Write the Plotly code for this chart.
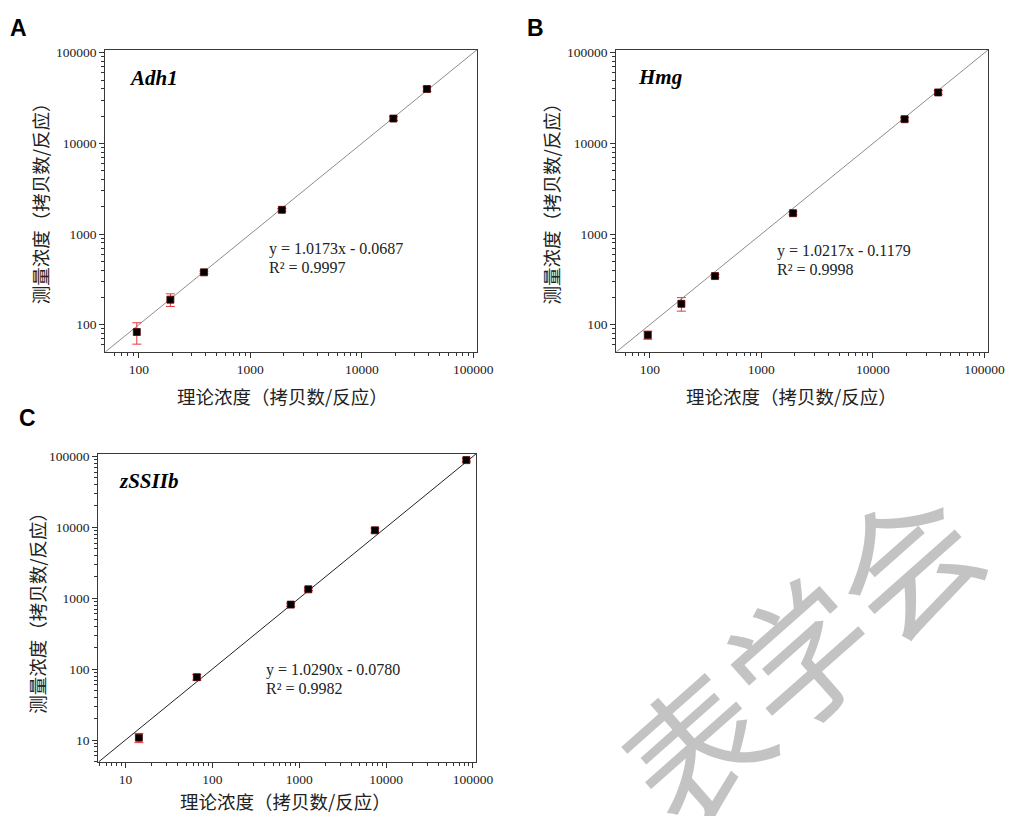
import plotly.graph_objects as go

# ---------------- data ----------------
genes = ["Adh1", "Hmg", "zSSIIb"]
panel_letters = ["A", "B", "C"]

a_x = [96, 192, 384, 1920, 19200, 38400]
a_y = [83, 189, 378, 1850, 18800, 39800]
a_err = [22, 30, 12, 60, 900, 2200]

b_x = [96, 192, 384, 1920, 19200, 38400]
b_y = [77, 170, 344, 1700, 18500, 36500]
b_err = [8, 29, 15, 70, 900, 1800]

c_x = [14.3, 66.4, 800, 1275, 7450, 84000]
c_y = [10.8, 77, 813, 1337, 9080, 88700]
c_err = [1.6, 7, 40, 60, 700, 5000]

equations = ["y = 1.0173x - 0.0687", "y = 1.0217x - 0.1179", "y = 1.0290x - 0.0780"]
r2_texts = ["R² = 0.9997", "R² = 0.9998", "R² = 0.9982"]

ab_tickvals = [100, 1000, 10000, 100000]
ab_ticktext = ["100", "1000", "10000", "100000"]
c_tickvals = [10, 100, 1000, 10000, 100000]
c_ticktext = ["10", "100", "1000", "10000", "100000"]

x_title = "理论浓度（拷贝数/反应）"
y_title = "测量浓度（拷贝数/反应）"
watermark = "表学会"

# log10 axis ranges
ab_range = [1.70, 5.033]
c_range = [0.69, 5.035]

# window is 1019x816; the page body has an 8px margin
OFF = 8
W, H = 1019 - OFF, 816 - OFF

def minor_vals(lo, hi):
    vals = []
    for e in range(int(lo) - 1, int(hi) + 2):
        for m in range(2, 10):
            vals.append(m * 10 ** e)
    return vals

SERIF = "Liberation Serif, Times New Roman, serif"
CJK = "Noto Sans CJK SC, sans-serif"
SANS = "Liberation Sans, Arial, sans-serif"

def axis_style(domain, rng, tickvals, ticktext, anchor):
    return dict(
        type="log", domain=domain, range=rng, anchor=anchor,
        tickmode="array", tickvals=tickvals, ticktext=ticktext,
        ticks="outside", ticklen=5, tickwidth=1, tickcolor="#333",
        minor=dict(ticks="outside", ticklen=3, tickwidth=1, tickcolor="#333",
                   tickmode="array", tickvals=minor_vals(rng[0], rng[1]), showgrid=False),
        showline=True, linecolor="#3a3a3a", linewidth=1.4, mirror=True,
        showgrid=False, zeroline=False,
        tickfont=dict(family=SERIF, size=13.5, color="#222"),
    )

# window pixel geometry -> paper fractions
def xd(x0, x1):
    return [(x0 - OFF) / W, (x1 - OFF) / W]

def yd(top, bottom):
    return [1 - (bottom - OFF) / H, 1 - (top - OFF) / H]

fig = go.Figure()

panels = [
    dict(xs=a_x, ys=a_y, err=a_err, line_color="#8c8c8c", rng=ab_range, xa="x", ya="y"),
    dict(xs=b_x, ys=b_y, err=b_err, line_color="#8c8c8c", rng=ab_range, xa="x2", ya="y2"),
    dict(xs=c_x, ys=c_y, err=c_err, line_color="#222222", rng=c_range, xa="x3", ya="y3"),
]

for p in panels:
    ref = [10 ** p["rng"][0], 10 ** p["rng"][1]]
    fig.add_trace(go.Scatter(
        x=ref, y=ref, mode="lines", xaxis=p["xa"], yaxis=p["ya"],
        line=dict(color=p["line_color"], width=1), hoverinfo="skip", cliponaxis=True))
    fig.add_trace(go.Scatter(
        x=p["xs"], y=p["ys"], mode="markers", xaxis=p["xa"], yaxis=p["ya"],
        marker=dict(symbol="square", size=7, color="black",
                    line=dict(color="#5a0000", width=0.8)),
        error_y=dict(type="data", array=p["err"], visible=True,
                     color="#e8393c", thickness=1, width=4.5),
    ))

A_dom_x, A_dom_y = xd(107, 485), yd(45, 349)
B_dom_x, B_dom_y = xd(626.7, 1005), yd(45, 349)
C_dom_x, C_dom_y = xd(100, 484), yd(451.7, 761.7)

fig.update_layout(
    width=W, height=H, autosize=False,
    margin=dict(l=0, r=0, t=0, b=0),
    paper_bgcolor="white", plot_bgcolor="white",
    showlegend=False,
    xaxis=axis_style(A_dom_x, ab_range, ab_tickvals, ab_ticktext, "y"),
    yaxis=axis_style(A_dom_y, ab_range, ab_tickvals, ab_ticktext, "x"),
    xaxis2=axis_style(B_dom_x, ab_range, ab_tickvals, ab_ticktext, "y2"),
    yaxis2=axis_style(B_dom_y, ab_range, ab_tickvals, ab_ticktext, "x2"),
    xaxis3=axis_style(C_dom_x, c_range, c_tickvals, c_ticktext, "y3"),
    yaxis3=axis_style(C_dom_y, c_range, c_tickvals, c_ticktext, "x3"),
)

ann = []

def px_ann(text, x, y, size, family, color="#111", bold=False, italic=False,
           xanchor="center", angle=0):
    t = text
    if bold:
        t = "<b>" + t + "</b>"
    if italic:
        t = "<i>" + t + "</i>"
    ann.append(dict(text=t, x=(x - OFF) / W, y=1 - (y - OFF) / H,
                    xref="paper", yref="paper",
                    xanchor=xanchor, yanchor="middle", showarrow=False,
                    textangle=angle,
                    font=dict(family=family, size=size, color=color)))

# watermark (drawn first), centred on the middle character
px_ann(watermark, 810, 650, 140, CJK, color="#c3c3c3", angle=-41.5)

# panel letters
px_ann(panel_letters[0], 19, 23, 23, SANS, color="black", bold=True)
px_ann(panel_letters[1], 545, 23, 23, SANS, color="black", bold=True)
px_ann(panel_letters[2], 28, 416, 23, SANS, color="black", bold=True)

# gene names
px_ann(genes[0], 156, 73, 21, SERIF, color="black", bold=True, italic=True)
px_ann(genes[1], 671, 72, 21, SERIF, color="black", bold=True, italic=True)
px_ann(genes[2], 151, 479, 21, SERIF, color="black", bold=True, italic=True)

# equations
eq_pos = [(271, 245, 264), (788, 247, 266), (268, 669, 688)]
for i, (x0, y1, y2) in enumerate(eq_pos):
    px_ann(equations[i], x0, y1, 16, SERIF, color="#222", xanchor="left")
    px_ann(r2_texts[i], x0, y2, 16, SERIF, color="#222", xanchor="left")

# axis titles
for (cx, cy) in [(287, 393), (805, 393), (290, 801)]:
    px_ann(x_title, cx, cy, 18.5, CJK, color="#222")
for (cx, cy) in [(40, 195), (560, 195), (38, 607)]:
    px_ann(y_title, cx, cy, 18.5, CJK, color="#222", angle=-90)

fig.update_layout(annotations=ann)

fig.write_html("out.html")
